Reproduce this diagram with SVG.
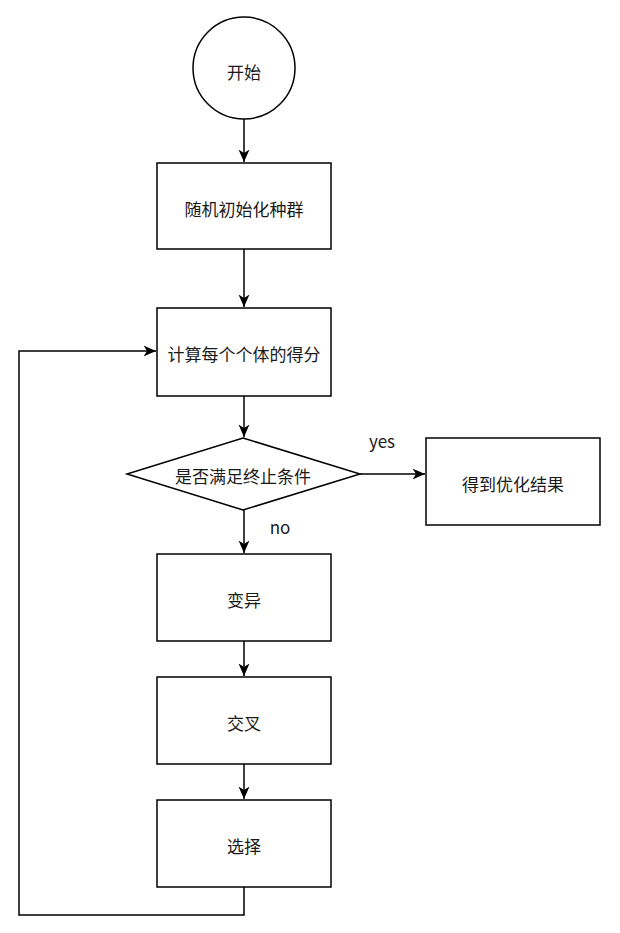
<svg xmlns="http://www.w3.org/2000/svg" width="620" height="933" viewBox="0 0 620 933">
<style>
.n{fill:#fff;stroke:#000;stroke-width:1.5}
.t{font-family:"Noto Sans CJK SC","Noto Sans",sans-serif;font-size:17px;fill:#1a1a1a;text-anchor:middle;dominant-baseline:central}
.c{fill:none;stroke:#000;stroke-width:1.5}
</style>
<defs>
<marker id="a" markerUnits="userSpaceOnUse" markerWidth="14" markerHeight="14" viewBox="0 0 14 14" refX="12.5" refY="7" orient="auto">
<path d="M0,1.5 L12.5,7 L0,12.5 L3.5,7 Z" fill="#000"/>
</marker>
</defs>
<rect width="620" height="933" fill="#fff"/>
<g id="connectors">
<path class="c" d="M244,119 V162" marker-end="url(#a)"/>
<path class="c" d="M244,249 V307" marker-end="url(#a)"/>
<path class="c" d="M244,396 V437" marker-end="url(#a)"/>
<path class="c" d="M360,474 H425" marker-end="url(#a)"/>
<path class="c" d="M244,510 V553" marker-end="url(#a)"/>
<path class="c" d="M244,641 V676" marker-end="url(#a)"/>
<path class="c" d="M244,764 V799" marker-end="url(#a)"/>
<path class="c" d="M244,887 V915 H19 V351 H156" marker-end="url(#a)"/>
<text class="t" x="382" y="440">yes</text>
<text class="t" x="280" y="526">no</text>
</g>
<g id="start"><circle class="n" cx="244" cy="68" r="51"/><text class="t" x="244" y="71">开始</text></g>
<g id="init"><rect class="n" x="157" y="163" width="174" height="86"/><text class="t" x="244" y="208">随机初始化种群</text></g>
<g id="score"><rect class="n" x="157" y="308" width="174" height="88"/><text class="t" x="244" y="353">计算每个个体的得分</text></g>
<g id="cond"><path class="n" d="M243,438 L360,474 L243,510 L127,474 Z"/><text class="t" x="243" y="475">是否满足终止条件</text></g>
<g id="result"><rect class="n" x="426" y="438" width="174" height="87"/><text class="t" x="513" y="483">得到优化结果</text></g>
<g id="mutate"><rect class="n" x="157" y="554" width="174" height="87"/><text class="t" x="244" y="599">变异</text></g>
<g id="cross"><rect class="n" x="157" y="677" width="174" height="87"/><text class="t" x="244" y="722">交叉</text></g>
<g id="select"><rect class="n" x="157" y="800" width="174" height="87"/><text class="t" x="244" y="845">选择</text></g>
</svg>
